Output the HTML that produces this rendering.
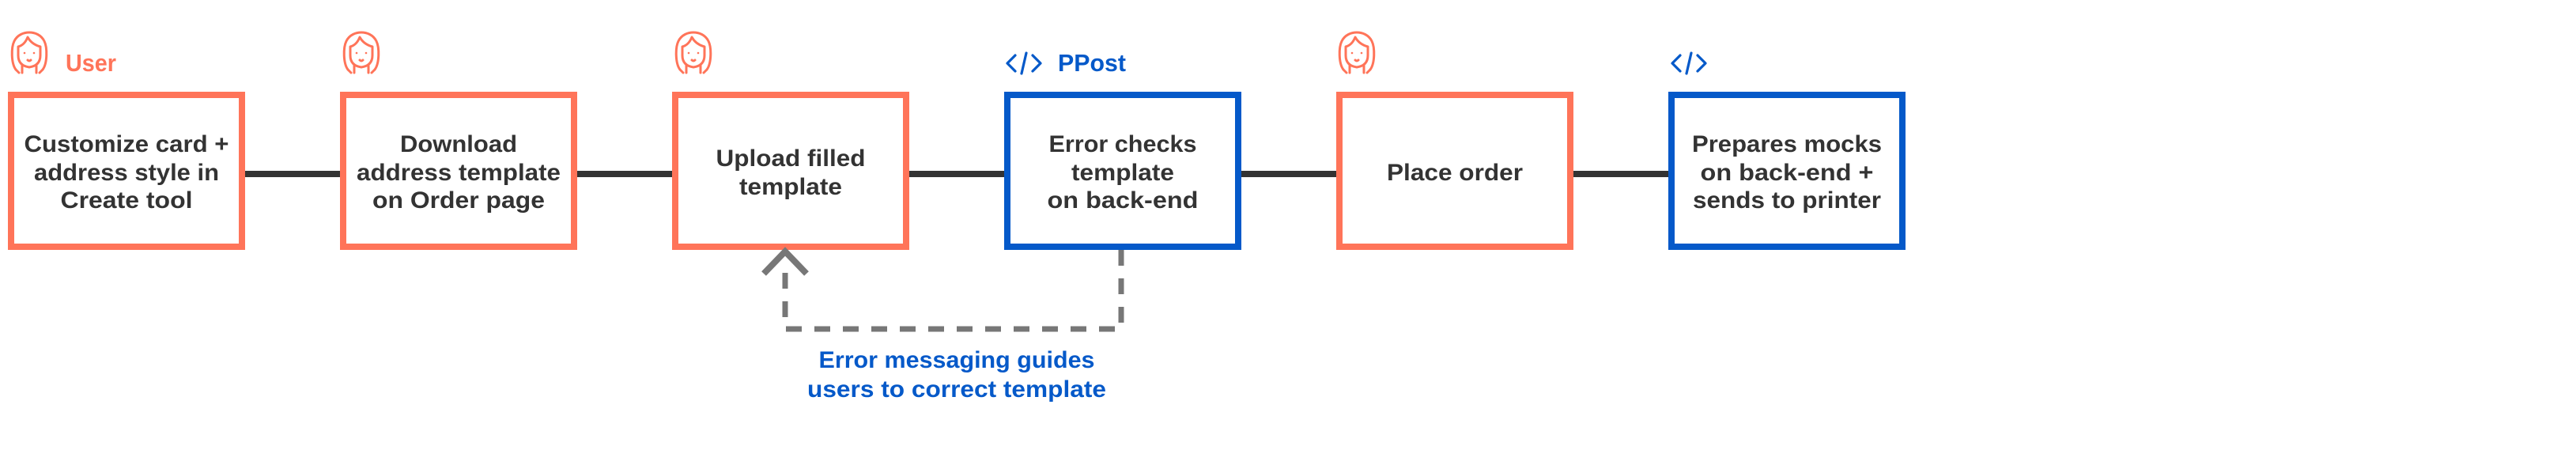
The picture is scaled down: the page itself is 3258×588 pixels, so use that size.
<!DOCTYPE html>
<html><head><meta charset="utf-8">
<style>
html,body{margin:0;padding:0;background:#fff;}
svg{display:block;}
text{font-family:"Liberation Sans",sans-serif;font-weight:bold;}
</style></head>
<body>
<svg width="3258" height="588" viewBox="0 0 3258 588" xmlns="http://www.w3.org/2000/svg">
<defs>
<g id="person" fill="none" stroke="#FF7459" stroke-width="3" stroke-linecap="round" stroke-linejoin="round">
  <path d="M7 48 C1 40 1 20 5 12 C9 4 17 1 24 1 C31 1 39 4 43 12 C47 20 47 40 41 48"/>
  <path d="M7 48 L11 52 M41 48 L37 52"/>
  <path d="M10 19 Q18 17 22 7 Q27 16 38 19 L38 30 Q38 43 24 45 Q10 43 10 30 Z"/>
  <path d="M15 42 L15 52 M33 42 L33 52"/>
  <circle cx="18" cy="27" r="1.3" fill="#FF7459" stroke="none"/>
  <circle cx="30" cy="27" r="1.3" fill="#FF7459" stroke="none"/>
  <path d="M22 36 Q24 38 26 36"/>
</g>
<g id="code" fill="none" stroke="#0559C9" stroke-width="3.2" stroke-linecap="round" stroke-linejoin="round">
  <path d="M13 4 L3 14 L13 24"/>
  <path d="M35 4 L45 14 L35 24"/>
  <path d="M27 1 L21 27"/>
</g>
</defs>

<!-- connectors -->
<rect x="310" y="216" width="1810" height="8" fill="#333"/>

<!-- boxes -->
<g fill="#fff" stroke-width="8">
  <rect x="14" y="120" width="292" height="192" stroke="#FF7459"/>
  <rect x="434" y="120" width="292" height="192" stroke="#FF7459"/>
  <rect x="854" y="120" width="292" height="192" stroke="#FF7459"/>
  <rect x="1274" y="120" width="292" height="192" stroke="#0559C9"/>
  <rect x="1694" y="120" width="292" height="192" stroke="#FF7459"/>
  <rect x="2114" y="120" width="292" height="192" stroke="#0559C9"/>
</g>

<!-- icons/headers -->
<use href="#person" x="13" y="40"/>
<use href="#person" x="433" y="40"/>
<use href="#person" x="853" y="40"/>
<use href="#person" x="1692" y="40"/>
<use href="#code" x="1271" y="66"/>
<use href="#code" x="2112" y="66"/>
<text x="83" y="90" font-size="31" fill="#FF7459" textLength="64" lengthAdjust="spacingAndGlyphs">User</text>
<text x="1338" y="90" font-size="31" fill="#0559C9" textLength="86" lengthAdjust="spacingAndGlyphs">PPost</text>

<!-- box text -->
<g font-size="30" fill="#333" text-anchor="middle">
  <text x="160" y="192" textLength="259" lengthAdjust="spacingAndGlyphs">Customize card +</text>
  <text x="160" y="228" textLength="234" lengthAdjust="spacingAndGlyphs">address style in</text>
  <text x="160" y="263" textLength="167" lengthAdjust="spacingAndGlyphs">Create tool</text>

  <text x="580" y="192" textLength="148" lengthAdjust="spacingAndGlyphs">Download</text>
  <text x="580" y="228" textLength="258" lengthAdjust="spacingAndGlyphs">address template</text>
  <text x="580" y="263" textLength="218" lengthAdjust="spacingAndGlyphs">on Order page</text>

  <text x="1000" y="210" textLength="189" lengthAdjust="spacingAndGlyphs">Upload filled</text>
  <text x="1000" y="246" textLength="130" lengthAdjust="spacingAndGlyphs">template</text>

  <text x="1420" y="192" textLength="187" lengthAdjust="spacingAndGlyphs">Error checks</text>
  <text x="1420" y="228" textLength="130" lengthAdjust="spacingAndGlyphs">template</text>
  <text x="1420" y="263" textLength="191" lengthAdjust="spacingAndGlyphs">on back-end</text>

  <text x="1840" y="228" textLength="172" lengthAdjust="spacingAndGlyphs">Place order</text>

  <text x="2260" y="192" textLength="240" lengthAdjust="spacingAndGlyphs">Prepares mocks</text>
  <text x="2260" y="228" textLength="219" lengthAdjust="spacingAndGlyphs">on back-end +</text>
  <text x="2260" y="263" textLength="238" lengthAdjust="spacingAndGlyphs">sends to printer</text>
</g>

<!-- dashed feedback -->
<g fill="none" stroke="#777" stroke-width="7">
  <path d="M1418 316 L1418 416 L993 416 L993 330" stroke-dasharray="20 16"/>
  <path d="M966 346 L993 318 L1020 346" stroke-width="8"/>
</g>
<g font-size="30" fill="#0559C9" text-anchor="middle">
  <text x="1210" y="465" textLength="349" lengthAdjust="spacingAndGlyphs">Error messaging guides</text>
  <text x="1210" y="502" textLength="378" lengthAdjust="spacingAndGlyphs">users to correct template</text>
</g>
</svg>
</body></html>
